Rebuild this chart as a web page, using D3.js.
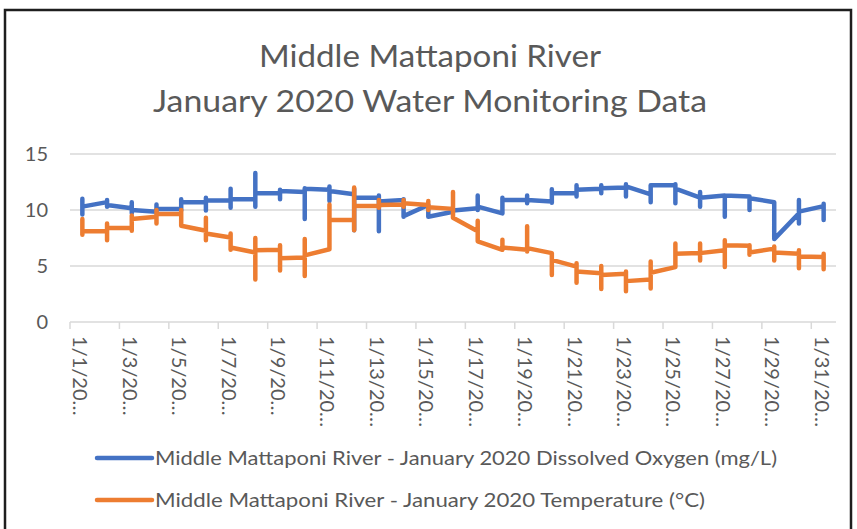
<!DOCTYPE html>
<html>
<head>
<meta charset="utf-8">
<script src="https://cdn.jsdelivr.net/npm/d3@7"></script>
<style>
  body { margin: 0; background: #fff; }
  svg text { font-family: Lato, "Open Sans", sans-serif; fill: #595959; }
</style>
</head>
<body>
<div id="chart"></div>
<script>
// DATA

const dates = [
  '1/1/2020', '1/2/2020', '1/3/2020', '1/4/2020', '1/5/2020', '1/6/2020', '1/7/2020', '1/8/2020',
  '1/9/2020', '1/10/2020', '1/11/2020', '1/12/2020', '1/13/2020', '1/14/2020', '1/15/2020', '1/16/2020',
  '1/17/2020', '1/18/2020', '1/19/2020', '1/20/2020', '1/21/2020', '1/22/2020', '1/23/2020', '1/24/2020',
  '1/25/2020', '1/26/2020', '1/27/2020', '1/28/2020', '1/29/2020', '1/30/2020', '1/31/2020'
];

// several readings per day; on a date axis they all sit at the same x
const oxygenReadings = [
  [11.0, 9.6, 10.3], [10.7, 10.9, 10.3, 10.45], [10.15, 10.7, 9.7, 10.0], [9.85, 10.5, 9.75, 10.1],
  [10.1, 10.95, 9.95, 10.7], [10.7, 11.1, 9.95, 10.85], [10.85, 11.9, 10.2, 10.95], [10.95, 13.3, 10.3, 11.5],
  [11.5, 11.8, 10.95, 11.7], [11.6, 11.95, 9.2, 11.9], [11.8, 12.1, 10.8, 11.7], [11.4, 11.9, 8.2, 11.1],
  [11.1, 11.3, 8.1, 10.75], [10.9, 10.95, 9.4, 9.45], [10.45, 9.4], [9.85, 9.95],
  [10.15, 11.3, 10.0, 10.3], [9.7, 11.1, 10.9], [10.9, 11.3, 10.6, 10.9], [10.75, 11.85, 10.65, 11.5],
  [11.5, 12.2, 11.2, 11.8], [11.9, 12.2, 11.5, 11.95], [12.0, 12.3, 11.2, 12.1], [11.4, 10.7, 12.2],
  [12.2, 12.3, 10.6, 11.9], [11.1, 11.6, 10.3, 11.1], [11.3, 9.4, 11.3], [11.2, 10.0, 11.05],
  [10.7, 7.4], [9.7, 10.9, 8.8, 9.85], [10.35, 10.55, 9.1]
];

const temperatureReadings = [
  [9.2, 7.8, 8.1], [8.1, 8.8, 7.3, 8.4], [8.4, 9.5, 8.15, 9.2], [9.4, 10.0, 8.8, 9.65],
  [9.65, 10.0, 8.6], [8.15, 9.3, 7.3, 7.9], [7.55, 7.9, 6.45, 6.65], [6.2, 7.5, 3.8, 6.4],
  [6.45, 6.85, 4.6, 5.7], [5.75, 7.4, 4.1, 5.95], [6.5, 10.5, 9.1], [9.1, 12.0, 8.2, 10.35],
  [10.35, 10.9, 10.2, 10.45], [10.5, 10.9, 10.3, 10.6], [10.45, 10.8, 10.0, 10.25], [10.1, 11.6, 9.3],
  [8.1, 9.05, 7.2], [6.45, 7.35, 6.65], [6.45, 8.55, 6.3, 6.6], [6.15, 4.2, 5.55],
  [4.95, 5.25, 3.5, 4.5], [4.35, 5.0, 2.95, 4.2], [4.3, 4.5, 2.75, 3.65], [3.8, 3.0, 5.4, 4.4],
  [4.9, 7.0, 6.1], [6.15, 7.0, 5.5, 6.15], [6.4, 7.3, 4.9, 6.85], [6.8, 6.85, 6.0, 6.2],
  [6.55, 6.75, 5.5, 6.2], [6.1, 6.4, 4.8, 5.85], [5.8, 6.1, 4.7]
];

const seriesNames = [
  'Middle Mattaponi River - January 2020 Dissolved Oxygen (mg/L)',
  'Middle Mattaponi River - January 2020 Temperature (°C)'
];
const seriesColors = ['#4472C4', '#ED7D31'];
const yTicks = [0, 5, 10, 15];
const titleLines = ['Middle Mattaponi River', 'January 2020 Water Monitoring Data'];

// CHART

const width = 857;
const height = 529;
const plot = { left: 70, right: 836, top: 154, bottom: 322 };

const svg = d3.select('#chart')
  .append('svg')
  .attr('width', width)
  .attr('height', height);

// chart area border
svg.append('rect')
  .attr('x', 5)
  .attr('y', 10)
  .attr('width', 846)
  .attr('height', 540)
  .attr('fill', '#fff')
  .attr('stroke', '#1e1e1e')
  .attr('stroke-width', 2.5);

// title
svg.selectAll('.title')
  .data(titleLines)
  .enter()
  .append('text')
  .attr('class', 'title')
  .attr('x', 430)
  .attr('y', (d, i) => 67 + i * 45)
  .attr('text-anchor', 'middle')
  .attr('textLength', (d, i) => i === 0 ? 342 : 554)
  .attr('lengthAdjust', 'spacingAndGlyphs')
  .style('font-size', '30px')
  .text(d => d);

// scales
const x = d3.scaleBand()
  .domain(dates)
  .range([plot.left, plot.right])
  .padding(0);

const y = d3.scaleLinear()
  .domain([0, 15])
  .range([plot.bottom, plot.top]);

// gridlines
svg.append('g')
  .selectAll('line')
  .data(yTicks.filter(t => t > 0))
  .enter()
  .append('line')
  .attr('x1', plot.left)
  .attr('x2', plot.right)
  .attr('y1', d => y(d))
  .attr('y2', d => y(d))
  .attr('stroke', '#d9d9d9')
  .attr('stroke-width', 1.5);

// y axis labels
const yAxis = svg.append('g')
  .attr('transform', `translate(${plot.left - 22},0)`)
  .call(d3.axisLeft(y).tickValues(yTicks).tickSize(0).tickPadding(0));
yAxis.select('.domain').remove();
yAxis.selectAll('text').style('font-size', '20px').attr('fill', '#595959');

// x axis: line, tick marks every second day on the day boundary, rotated labels
const labelDates = dates.filter((d, i) => i % 2 === 0);

svg.append('line')
  .attr('x1', plot.left)
  .attr('x2', plot.right)
  .attr('y1', plot.bottom)
  .attr('y2', plot.bottom)
  .attr('stroke', '#d9d9d9')
  .attr('stroke-width', 1.5);

svg.append('g')
  .selectAll('line')
  .data(labelDates)
  .enter()
  .append('line')
  .attr('x1', d => x(d))
  .attr('x2', d => x(d))
  .attr('y1', plot.bottom)
  .attr('y2', plot.bottom + 7)
  .attr('stroke', '#d9d9d9')
  .attr('stroke-width', 1.5);

const xAxis = svg.append('g')
  .attr('transform', `translate(0,${plot.bottom})`)
  .call(d3.axisBottom(x).tickValues(labelDates).tickSize(0)
    .tickFormat(d => d.slice(0, -2) + '\u2026'));
xAxis.select('.domain').remove();
xAxis.selectAll('text')
  .attr('transform', 'translate(-2,14) rotate(90)')
  .attr('x', 0)
  .attr('y', 0)
  .attr('dy', '0.35em')
  .attr('text-anchor', 'start')
  .attr('fill', '#595959')
  .style('font-size', '20px');

// lines
const line = d3.line()
  .x(d => x(d.date) + x.bandwidth() / 2)
  .y(d => y(d.value));

const toPoints = readings => readings.flatMap((vals, i) => vals.map(v => ({ date: dates[i], value: v })));

[oxygenReadings, temperatureReadings].forEach((readings, k) => {
  svg.append('path')
    .datum(toPoints(readings))
    .attr('fill', 'none')
    .attr('stroke', seriesColors[k])
    .attr('stroke-width', 4.5)
    .attr('stroke-linecap', 'round')
    .attr('stroke-linejoin', 'round')
    .attr('d', line);
});

// legend
const legend = svg.append('g')
  .selectAll('g')
  .data(seriesNames)
  .enter()
  .append('g')
  .attr('transform', (d, i) => `translate(97,${458 + i * 42})`);

legend.append('line')
  .attr('x1', 0)
  .attr('x2', 55)
  .attr('stroke', (d, i) => seriesColors[i])
  .attr('stroke-width', 4.5)
  .attr('stroke-linecap', 'round');

legend.append('text')
  .attr('x', 58)
  .attr('dy', '0.35em')
  .attr('textLength', (d, i) => i === 0 ? 622 : 550)
  .attr('lengthAdjust', 'spacingAndGlyphs')
  .style('font-size', '20px')
  .text(d => d);
</script>
</body>
</html>
